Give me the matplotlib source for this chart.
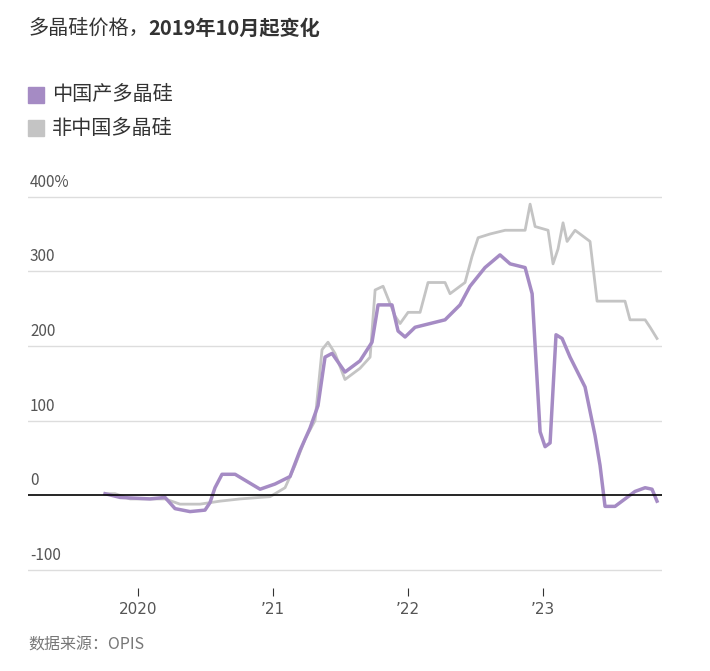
import matplotlib.pyplot as plt
from matplotlib.patches import Rectangle

plt.rcParams['font.family'] = ['Noto Sans CJK SC', 'DejaVu Sans']

cn_years = [2019.756, 2019.867, 2020.089, 2020.200, 2020.274, 2020.385, 2020.496, 2020.533, 2020.570,
            2020.622, 2020.719, 2020.793, 2020.904, 2021.015, 2021.126, 2021.200, 2021.274, 2021.333,
            2021.385, 2021.437, 2021.533, 2021.644, 2021.733, 2021.778, 2021.881, 2021.926, 2021.978,
            2022.052, 2022.163, 2022.274, 2022.385, 2022.459, 2022.570, 2022.681, 2022.756, 2022.867,
            2022.919, 2022.978, 2023.015, 2023.052, 2023.096, 2023.141, 2023.200, 2023.311, 2023.385,
            2023.422, 2023.459, 2023.533, 2023.607, 2023.681, 2023.756, 2023.807, 2023.844]
cn_vals = [2, -3, -5, -3, -18, -22, -20, -10, 10,
           28, 28, 20, 8, 15, 25, 60, 90, 120,
           185, 190, 165, 180, 205, 255, 255, 220, 212,
           225, 230, 235, 255, 280, 305, 322, 310, 305,
           270, 85, 65, 70, 215, 210, 185, 145, 80,
           40, -15, -15, -5, 5, 10, 8, -8]

ot_years = [2019.756, 2019.830, 2019.941, 2020.200, 2020.311, 2020.459, 2020.607, 2020.756, 2020.978,
            2021.089, 2021.163, 2021.237, 2021.311, 2021.363, 2021.407, 2021.459, 2021.533, 2021.644,
            2021.719, 2021.756, 2021.815, 2021.904, 2021.941, 2022.0, 2022.089, 2022.148, 2022.274,
            2022.311, 2022.422, 2022.474, 2022.519, 2022.607, 2022.719, 2022.867, 2022.904, 2022.941,
            2023.037, 2023.074, 2023.111, 2023.148, 2023.178, 2023.237, 2023.348, 2023.400, 2023.607,
            2023.644, 2023.756, 2023.793, 2023.844]
ot_vals = [2, 2, -5, -5, -12, -12, -8, -5, -2,
           10, 40, 75, 100, 195, 205, 190, 155, 170,
           185, 275, 280, 240, 230, 245, 245, 285, 285,
           270, 285, 320, 345, 350, 355, 355, 390, 360,
           355, 310, 330, 365, 340, 355, 340, 260, 260,
           235, 235, 225, 210]

xticks = [2020, 2021, 2022, 2023]
xlabels = ['2020', '’21', '’22', '’23']
yticks = [-100, 0, 100, 200, 300, 400]
ylabels = ['-100', '0', '100', '200', '300', '400%']

purple = '#a58bc4'
grey = '#c4c4c4'

fig = plt.figure(figsize=(7.1, 6.71), dpi=100)
ax = fig.add_axes([28 / 710, 0.123, 634 / 710, 0.595])
ax.set_xlim(2019.185, 2023.881)
ax.set_ylim(-125, 410)

for y, lab in zip(yticks, ylabels):
    ax.axhline(y, color='black' if y == 0 else '#dddddd', lw=1.2 if y == 0 else 1, zorder=3 if y == 0 else 0)
    ax.text(2019.2, y + 8, lab, fontsize=11, color='#555555', va='bottom', ha='left')

ax.plot(ot_years, ot_vals, color=grey, lw=2, zorder=1)
ax.plot(cn_years, cn_vals, color=purple, lw=2.5, zorder=2)

ax.set_yticks([])
ax.set_xticks(xticks)
ax.set_xticklabels(xlabels, fontsize=11, color='#555555', family=['DejaVu Sans'])
ax.tick_params(axis='x', length=6, color='#333333', pad=4)
for s in ax.spines.values():
    s.set_visible(False)

t1 = fig.text(28 / 710, 1 - 28 / 671, '多晶硅价格，', fontsize=14.5, color='#333333',
              va='center', ha='left')
fig.canvas.draw()
bb = t1.get_window_extent()
fig.text(bb.x1 / 710, 1 - 28 / 671, '2019年10月起变化', fontsize=14.5, color='#333333',
         va='center', ha='left', fontweight='bold')
for i, (lab, c) in enumerate([('中国产多晶硅', purple), ('非中国多晶硅', grey)]):
    yy = 1 - (95 + 33 * i) / 671
    fig.patches.append(Rectangle((28 / 710, yy - 8 / 671), 16 / 710, 16 / 671, color=c,
                                 transform=fig.transFigure, figure=fig))
    fig.text(52 / 710, yy, lab, fontsize=14.5, color='#333333', va='center', ha='left')
fig.text(28 / 710, 1 - 645 / 671, '数据来源：OPIS', fontsize=11.5, color='#777777', va='center', ha='left')

fig.savefig('out.png', dpi=100)
